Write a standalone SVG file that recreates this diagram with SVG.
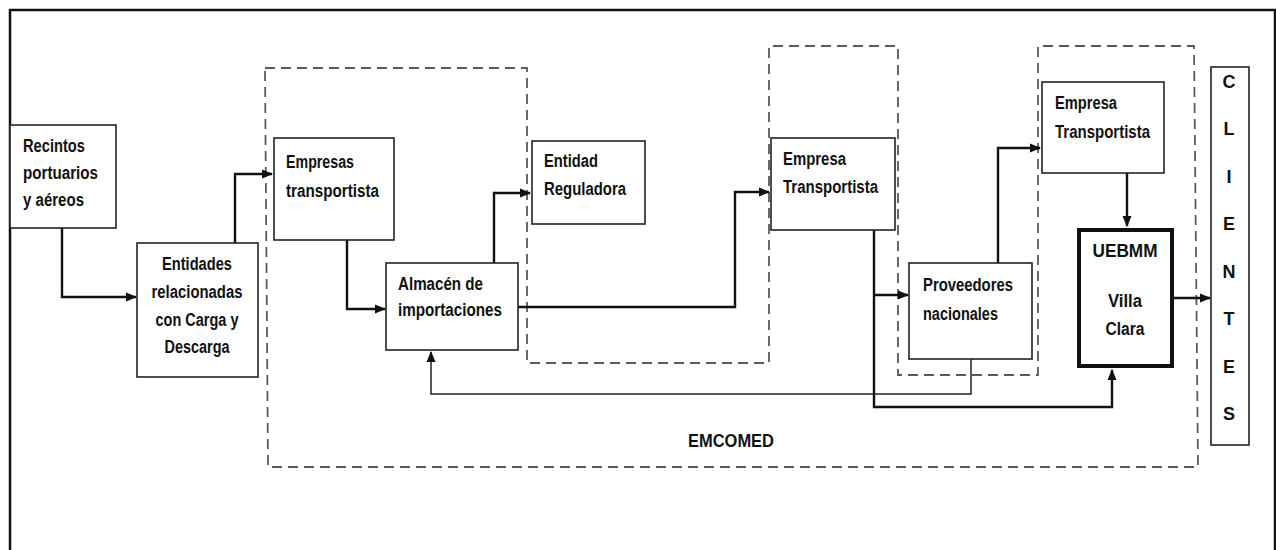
<svg xmlns="http://www.w3.org/2000/svg" width="1276" height="550" viewBox="0 0 1276 550">
<style>
.bg{fill:#ffffff}
.frame{fill:none;stroke:#111;stroke-width:2.5}
.box{fill:#fff;stroke:#222;stroke-width:1.6}
.thick{fill:#fff;stroke:#111;stroke-width:4}
.dash{fill:none;stroke:#5a5a5a;stroke-width:1.8;stroke-dasharray:10 6}
.t{font-family:"Liberation Sans",Arial,sans-serif;font-weight:bold;font-size:18px;fill:#111}
.c{text-anchor:middle}
.conn{fill:none;stroke:#111;stroke-width:2.4;stroke-linejoin:miter}
.thin{fill:none;stroke:#222;stroke-width:1.5}
</style>
<defs>
<marker id="ah" markerWidth="11" markerHeight="10" refX="10" refY="5" orient="auto" markerUnits="userSpaceOnUse">
<path d="M0,0.5 L11,5 L0,9.5 z" fill="#111"/>
</marker>
</defs>
<rect class="bg" x="0" y="0" width="1276" height="550"/>
<path class="frame" d="M10,552 V10 H1275 V552"/>

<g id="emcomed">
<path class="dash" d="M265,68 H527 V363 H769 V46 H898 V375 H1038 V46 H1194 L1198,467 H268 Z"/>
<text class="t c" x="731" y="447" textLength="86" lengthAdjust="spacingAndGlyphs">EMCOMED</text>
</g>

<g id="connectors">
<path class="conn" d="M62,228 V297 H136" marker-end="url(#ah)"/>
<path class="conn" d="M235,243 V174 H272" marker-end="url(#ah)"/>
<path class="conn" d="M347,240 V309 H385" marker-end="url(#ah)"/>
<path class="conn" d="M494,263 V193 H530" marker-end="url(#ah)"/>
<path class="conn" d="M518,307 H735 V192 H769" marker-end="url(#ah)"/>
<path class="conn" d="M874,295 H908" marker-end="url(#ah)"/>
<path class="conn" d="M874,230 V407 H1112 V370" marker-end="url(#ah)"/>
<path class="conn" d="M998,263 V148 H1040" marker-end="url(#ah)"/>
<path class="conn" d="M1127,173 V226" marker-end="url(#ah)"/>
<path class="conn" d="M1174,298 H1210" marker-end="url(#ah)"/>
<path class="thin" d="M971,359 V394 H431 V352" marker-end="url(#ah)"/>
</g>

<g id="recintos">
<rect class="box" x="10" y="125" width="106" height="103"/>
<text class="t" x="23" y="152" textLength="62" lengthAdjust="spacingAndGlyphs">Recintos</text>
<text class="t" x="23" y="179" textLength="75" lengthAdjust="spacingAndGlyphs">portuarios</text>
<text class="t" x="23" y="206" textLength="61" lengthAdjust="spacingAndGlyphs">y aéreos</text>
</g>

<g id="entidades">
<rect class="box" x="137" y="243" width="121" height="134"/>
<text class="t c" x="197" y="270" textLength="70" lengthAdjust="spacingAndGlyphs">Entidades</text>
<text class="t c" x="197" y="298" textLength="91" lengthAdjust="spacingAndGlyphs">relacionadas</text>
<text class="t c" x="197" y="326" textLength="83" lengthAdjust="spacingAndGlyphs">con Carga y</text>
<text class="t c" x="197" y="353" textLength="65" lengthAdjust="spacingAndGlyphs">Descarga</text>
</g>

<g id="empresas-transportista">
<rect class="box" x="274" y="138" width="120" height="102"/>
<text class="t" x="286" y="168" textLength="68" lengthAdjust="spacingAndGlyphs">Empresas</text>
<text class="t" x="286" y="197" textLength="93" lengthAdjust="spacingAndGlyphs">transportista</text>
</g>

<g id="almacen">
<rect class="box" x="386" y="263" width="132" height="87"/>
<text class="t" x="398" y="290" textLength="85" lengthAdjust="spacingAndGlyphs">Almacén de</text>
<text class="t" x="398" y="316" textLength="104" lengthAdjust="spacingAndGlyphs">importaciones</text>
</g>

<g id="entidad-reguladora">
<rect class="box" x="532" y="141" width="113" height="83"/>
<text class="t" x="544" y="167" textLength="54" lengthAdjust="spacingAndGlyphs">Entidad</text>
<text class="t" x="544" y="195" textLength="82" lengthAdjust="spacingAndGlyphs">Reguladora</text>
</g>

<g id="empresa-transportista-1">
<rect class="box" x="771" y="138" width="124" height="92"/>
<text class="t" x="783" y="165" textLength="63" lengthAdjust="spacingAndGlyphs">Empresa</text>
<text class="t" x="783" y="193" textLength="95" lengthAdjust="spacingAndGlyphs">Transportista</text>
</g>

<g id="proveedores">
<rect class="box" x="909" y="263" width="123" height="96"/>
<text class="t" x="923" y="291" textLength="90" lengthAdjust="spacingAndGlyphs">Proveedores</text>
<text class="t" x="923" y="320" textLength="75" lengthAdjust="spacingAndGlyphs">nacionales</text>
</g>

<g id="empresa-transportista-2">
<rect class="box" x="1042" y="82" width="122" height="91"/>
<text class="t" x="1055" y="109" textLength="62" lengthAdjust="spacingAndGlyphs">Empresa</text>
<text class="t" x="1055" y="138" textLength="95" lengthAdjust="spacingAndGlyphs">Transportista</text>
</g>

<g id="uebmm">
<rect class="thick" x="1079" y="230" width="93" height="136"/>
<text class="t c" x="1125" y="257" textLength="65" lengthAdjust="spacingAndGlyphs">UEBMM</text>
<text class="t c" x="1125" y="307" textLength="34" lengthAdjust="spacingAndGlyphs">Villa</text>
<text class="t c" x="1125" y="335" textLength="39" lengthAdjust="spacingAndGlyphs">Clara</text>
</g>

<g id="clientes">
<rect class="box" x="1211" y="67" width="38" height="378"/>
<text class="t c" x="1229" y="88" font-size="16">C</text>
<text class="t c" x="1229" y="135" font-size="16">L</text>
<text class="t c" x="1229" y="183" font-size="16">I</text>
<text class="t c" x="1229" y="230" font-size="16">E</text>
<text class="t c" x="1229" y="278" font-size="16">N</text>
<text class="t c" x="1229" y="325" font-size="16">T</text>
<text class="t c" x="1229" y="373" font-size="16">E</text>
<text class="t c" x="1229" y="420" font-size="16">S</text>
</g>
</svg>
